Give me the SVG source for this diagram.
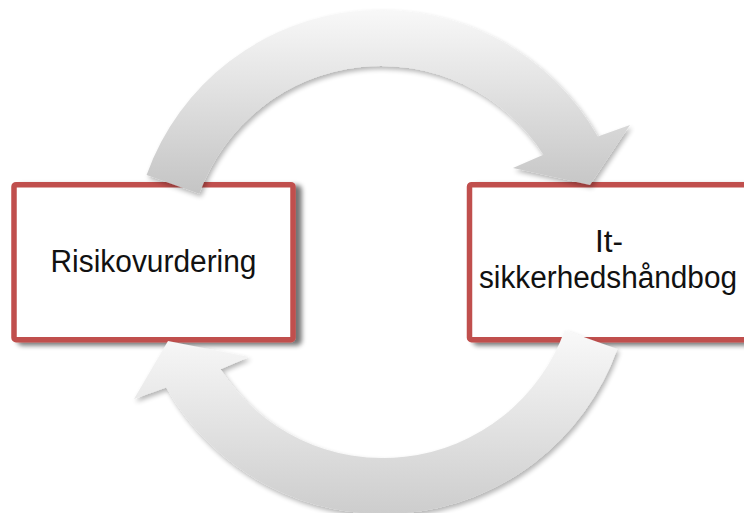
<svg xmlns="http://www.w3.org/2000/svg" width="744" height="513" viewBox="0 0 744 513">
  <defs>
    <style>
      .box { fill: #ffffff; stroke: #c0504d; stroke-width: 5.5; stroke-linejoin: round; }
      .label { font-family: "Liberation Sans", Arial, sans-serif; font-size: 31px; fill: #111111; text-anchor: middle; }
      .arrow { filter: url(#arrowShadow); }
    </style>
    <filter id="boxShadow" x="-10%" y="-10%" width="125%" height="130%">
      <feGaussianBlur in="SourceAlpha" stdDeviation="2.5"/>
      <feOffset dx="6" dy="3" result="blur"/>
      <feComponentTransfer><feFuncA type="linear" slope="0.55"/></feComponentTransfer>
      <feMerge><feMergeNode/><feMergeNode in="SourceGraphic"/></feMerge>
    </filter>
    <filter id="arrowShadow" x="-10%" y="-10%" width="125%" height="130%">
      <feGaussianBlur in="SourceAlpha" stdDeviation="2.5"/>
      <feOffset dx="2" dy="3" result="blur"/>
      <feComponentTransfer><feFuncA type="linear" slope="0.3"/></feComponentTransfer>
      <feMerge><feMergeNode/><feMergeNode in="SourceGraphic"/></feMerge>
    </filter>
    <linearGradient id="gradTop" gradientUnits="userSpaceOnUse" x1="0" y1="10" x2="0" y2="195">
      <stop offset="0" stop-color="#f8f8f8"/>
      <stop offset="1" stop-color="#c4c4c4"/>
    </linearGradient>
    <linearGradient id="gradBottom" gradientUnits="userSpaceOnUse" x1="0" y1="330" x2="0" y2="514">
      <stop offset="0" stop-color="#f9f9f9"/>
      <stop offset="1" stop-color="#cdcdcd"/>
    </linearGradient>
  </defs>

  <rect width="744" height="513" fill="#ffffff"/>

  <g id="node-risikovurdering">
    <rect class="box" x="14" y="184.7" width="279" height="155" rx="2" filter="url(#boxShadow)"/>
    <text class="label" x="153.5" y="271.7" textLength="206" lengthAdjust="spacingAndGlyphs">Risikovurdering</text>
  </g>

  <g id="node-haandbog">
    <rect class="box" x="469.5" y="184.7" width="279" height="155" rx="2" filter="url(#boxShadow)"/>
    <text class="label" x="609" y="252" textLength="28" lengthAdjust="spacingAndGlyphs">It-</text>
    <text class="label" x="608" y="288" textLength="258" lengthAdjust="spacingAndGlyphs">sikkerhedshåndbog</text>
  </g>

  <g id="connectors">
    <!-- upper arc: Risikovurdering -> It-sikkerhedshåndbog -->
    <path class="arrow" fill="url(#gradTop)" d="M 146.6,174.9 A 249 249 0 0 1 597.8,136.5 L 630,125 L 590,185 L 513,168 L 543.4,154.7 A 193 193 0 0 0 199.3,193.8 Z"/>
    <!-- lower arc: It-sikkerhedshåndbog -> Risikovurdering -->
    <path class="arrow" fill="url(#gradBottom)" d="M 617.4,349.1 A 249 249 0 0 1 166.2,387.5 L 134,399 L 168,341 L 249,357 L 220.6,369.3 A 193 193 0 0 0 564.7,330.2 Z"/>
  </g>
</svg>
